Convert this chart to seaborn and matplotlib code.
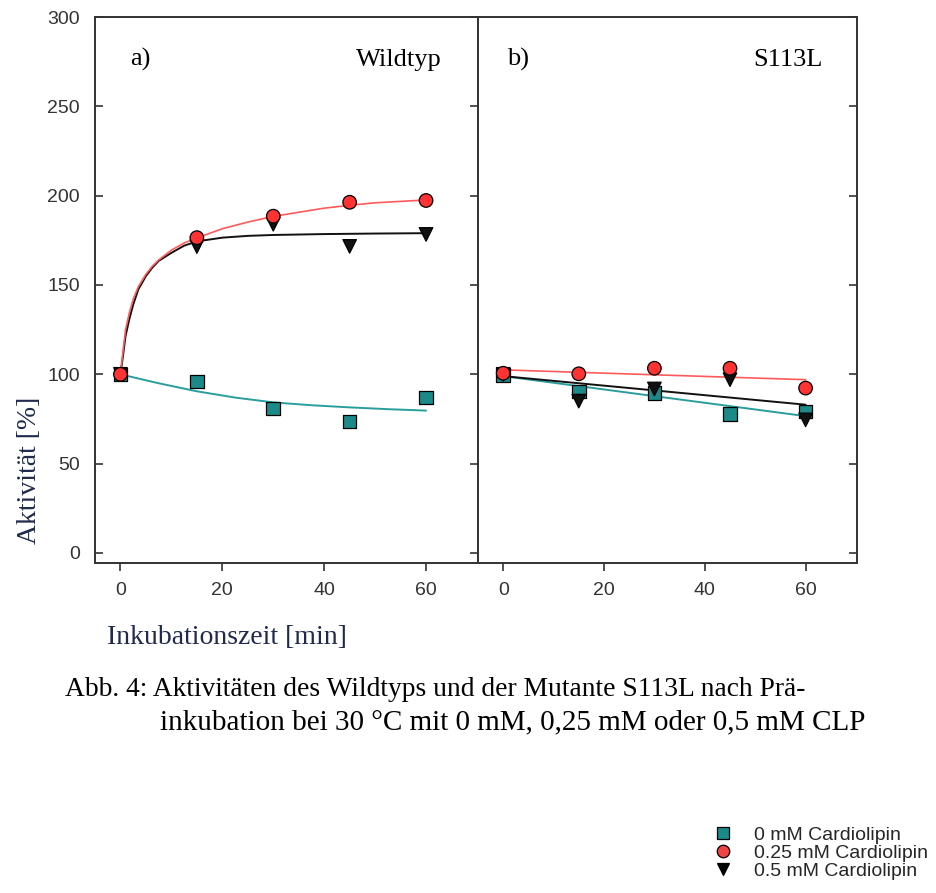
import matplotlib
matplotlib.use("Agg")
import matplotlib.pyplot as plt
from matplotlib.lines import Line2D
import seaborn as sns
import pandas as pd

# ---------------- data ----------------
series_names = ["0 mM Cardiolipin", "0.25 mM Cardiolipin", "0.5 mM Cardiolipin"]
time_points = [0, 15, 30, 45, 60]

# a) Wildtyp - measured points
wt_0mM = [100, 96, 81, 73.5, 87]
wt_025mM = [100, 176.5, 188.5, 196.3, 197.3]
wt_05mM = [100, 171.5, 184, 171.6, 178.3]

# a) Wildtyp - fitted curves (read off the picture)
wt_fit_0mM_t = [0, 7.5, 15, 22.5, 30, 37.5, 45, 52.5, 60]
wt_fit_0mM_y = [100, 95, 90.5, 87, 84.3, 82.7, 81.5, 80.5, 79.7]
wt_fit_025mM_t = [0, 0.5, 1, 1.75, 2.5, 3.5, 5, 6.25, 7.5, 10, 12.5, 15, 20, 25, 30, 40, 45, 50, 60]
wt_fit_025mM_y = [100, 113, 125, 134.5, 142, 149, 156, 160.5, 164, 169.5, 173.5, 176.3, 181.5, 185.2, 188.4, 193, 194.6, 196, 197.6]
wt_fit_05mM_t = [0, 0.5, 1, 1.75, 2.5, 3.5, 5, 6.25, 7.5, 10, 12.5, 15, 20, 25, 30, 40, 50, 60]
wt_fit_05mM_y = [100, 110.5, 121.5, 131, 139, 147.5, 155, 159.7, 163.5, 168, 172, 174.4, 176.5, 177.5, 178, 178.5, 178.8, 179]

# b) S113L - measured points
mut_0mM = [99.5, 90.4, 89.5, 77.9, 79.2]
mut_025mM = [100.6, 100.3, 103.4, 103.4, 92.3]
mut_05mM = [100, 85, 91.8, 97, 74.5]

# b) S113L - fitted straight lines (end points read off the picture)
mut_fit_t = [0, 60]
mut_fit_0mM_y = [99, 76.6]
mut_fit_025mM_y = [102.5, 97]
mut_fit_05mM_y = [99, 83]

y_ticks = [0, 50, 100, 150, 200, 250, 300]
x_ticks = [0, 20, 40, 60]

panel_labels = ["a)", "b)"]
panel_titles = ["Wildtyp", "S113L"]
y_label = "Aktivität [%]"
x_label = "Inkubationszeit [min]"
caption_1 = "Abb. 4: Aktivitäten des Wildtyps und der Mutante S113L nach Prä-"
caption_2 = "inkubation bei 30 °C mit 0 mM, 0,25 mM oder 0,5 mM CLP"

# ---------------- style ----------------
sns.set_theme(style="white")
plt.rcParams["font.family"] = ["Liberation Sans", "DejaVu Sans"]

teal = "#1d8a8a"
teal_line = "#2a9d9d"
red = "#ff3333"
red_line = "#ff5a5a"
black = "#111111"
spine_c = "#333333"
label_c = "#1f2a4d"

palette = {series_names[0]: teal, series_names[1]: red, series_names[2]: black}
line_palette = {series_names[0]: teal_line, series_names[1]: red_line, series_names[2]: black}
markers = {series_names[0]: "s", series_names[1]: "o", series_names[2]: "v"}
# draw order: squares, triangles, circles
draw_order = [series_names[0], series_names[2], series_names[1]]


def points_frame(vals):
    rows = []
    for name in draw_order:
        for t, v in zip(time_points, vals[name]):
            rows.append({"t": t, "y": v, "series": name})
    return pd.DataFrame(rows)


def curve_frame(curves):
    rows = []
    for name, (ts, ys) in curves.items():
        for t, v in zip(ts, ys):
            rows.append({"t": t, "y": v, "series": name})
    return pd.DataFrame(rows)


fig = plt.figure(figsize=(9.37, 8.93), dpi=100)
W, H = 937, 893
top_px, bot_px = 17, 563
ax1 = fig.add_axes([95 / W, 1 - bot_px / H, (478 - 95) / W, (bot_px - top_px) / H])
ax2 = fig.add_axes([478 / W, 1 - bot_px / H, (857 - 478) / W, (bot_px - top_px) / H])

panels = [
    (ax1,
     {series_names[0]: wt_0mM, series_names[1]: wt_025mM, series_names[2]: wt_05mM},
     {series_names[0]: (wt_fit_0mM_t, wt_fit_0mM_y),
      series_names[2]: (wt_fit_05mM_t, wt_fit_05mM_y),
      series_names[1]: (wt_fit_025mM_t, wt_fit_025mM_y)}),
    (ax2,
     {series_names[0]: mut_0mM, series_names[1]: mut_025mM, series_names[2]: mut_05mM},
     {series_names[0]: (mut_fit_t, mut_fit_0mM_y),
      series_names[2]: (mut_fit_t, mut_fit_05mM_y),
      series_names[1]: (mut_fit_t, mut_fit_025mM_y)}),
]

for i, (ax, pts, curves) in enumerate(panels):
    cdf = curve_frame(curves)
    for name in curves:
        sub = cdf[cdf["series"] == name]
        sns.lineplot(data=sub, x="t", y="y", ax=ax, color=line_palette[name],
                     linewidth=1.4 if name != series_names[1] else 1.2,
                     sort=False, legend=False, zorder=2)
    pdf = points_frame(pts)
    sns.scatterplot(data=pdf, x="t", y="y", hue="series", style="series",
                    palette=palette, markers=markers, s=95, edgecolor="black",
                    linewidth=0.9, ax=ax, legend=False, zorder=3)

    ax.set_xlim(-5, 70.2)
    ax.set_ylim(-5.6, 300)
    ax.set_xlabel("")
    ax.set_ylabel("")
    ax.set_xticks(x_ticks)
    ax.set_yticks(y_ticks)
    for sp in ax.spines.values():
        sp.set_visible(True)
        sp.set_color(spine_c)
        sp.set_linewidth(1.4)
    ax.tick_params(axis="x", direction="out", length=6, width=1.2, color=spine_c,
                   labelsize=14, labelcolor="#333333", pad=8, bottom=True)
    if i == 0:
        ax.tick_params(axis="y", direction="in", length=6, width=1.2, color=spine_c,
                       left=True, right=True, labelleft=True, labelsize=14,
                       labelcolor="#333333", pad=11)
    else:
        ax.tick_params(axis="y", direction="in", length=6, width=1.2, color=spine_c,
                       left=False, right=True, labelleft=False, labelright=False)
    ax.grid(False)
    ax.set_facecolor("white")

for ax, lab, title, lx, rx in [(ax1, panel_labels[0], panel_titles[0], 0.091, 0.906),
                               (ax2, panel_labels[1], panel_titles[1], 0.0765, 0.910)]:
    ax.text(lx, 0.922, lab, transform=ax.transAxes, ha="left", va="center",
            fontsize=19, family="Liberation Serif", color="black")
    ax.text(rx, 0.922, title, transform=ax.transAxes, ha="right", va="center",
            fontsize=19, family="Liberation Serif", color="black")

fig.text(30 / W, 1 - 470 / H, y_label, rotation=90, ha="center", va="center",
         fontsize=20, family="Liberation Serif", color=label_c)
fig.text(107 / W, 1 - 638 / H, x_label, ha="left", va="center",
         fontsize=20, family="Liberation Serif", color=label_c)

fig.text(65 / W, 1 - 690 / H, caption_1, ha="left", va="center",
         fontsize=19.8, family="Liberation Serif", color="black")
fig.text(160 / W, 1 - 722 / H, caption_2, ha="left", va="center",
         fontsize=21, family="Liberation Serif", color="black")

handles = [
    Line2D([], [], linestyle="none", marker="s", markersize=8, markerfacecolor=teal,
           markeredgecolor="black", markeredgewidth=0.9),
    Line2D([], [], linestyle="none", marker="o", markersize=9, markerfacecolor="#ef4444",
           markeredgecolor="black", markeredgewidth=0.9),
    Line2D([], [], linestyle="none", marker="v", markersize=9, markerfacecolor="black",
           markeredgecolor="black", markeredgewidth=0.9),
]
fig.legend(handles, series_names, loc="upper left", bbox_to_anchor=(711 / W, 1 - 826 / H),
           frameon=False, fontsize=14, handlelength=1.2, handletextpad=1.0,
           labelspacing=0.02, borderpad=0, borderaxespad=0)

fig.savefig("out.png", dpi=100, facecolor="white")
